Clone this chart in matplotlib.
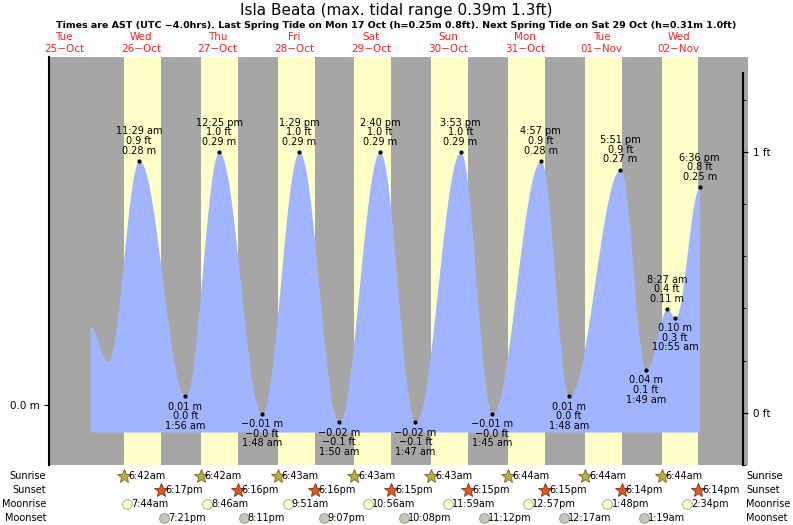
import numpy as np
import matplotlib.pyplot as plt

# hours relative to Wed 26-Oct 00:00 AST
ext_hours = [-3.9, 1.7, 11.48, 25.93, 36.42, 49.8, 61.48, 73.83, 86.67, 97.78,
             111.88, 121.75, 136.95, 145.8, 161.85, 169.82, 176.45, 178.92, 186.6]
ext_m = [0.09, 0.05, 0.28, 0.01, 0.29, -0.01, 0.29, -0.02, 0.29, -0.02,
         0.29, -0.01, 0.28, 0.01, 0.27, 0.04, 0.11, 0.10, 0.25]
# labelled extremes: (index, time, ft, m)
labels = [(2, '11:29 am', '0.9 ft', '0.28 m'), (3, '1:56 am', '0.0 ft', '0.01 m'),
          (4, '12:25 pm', '1.0 ft', '0.29 m'), (5, '1:48 am', '\u22120.0 ft', '\u22120.01 m'),
          (6, '1:29 pm', '1.0 ft', '0.29 m'), (7, '1:50 am', '\u22120.1 ft', '\u22120.02 m'),
          (8, '2:40 pm', '1.0 ft', '0.29 m'), (9, '1:47 am', '\u22120.1 ft', '\u22120.02 m'),
          (10, '3:53 pm', '1.0 ft', '0.29 m'), (11, '1:45 am', '\u22120.0 ft', '\u22120.01 m'),
          (12, '4:57 pm', '0.9 ft', '0.28 m'), (13, '1:48 am', '0.0 ft', '0.01 m'),
          (14, '5:51 pm', '0.9 ft', '0.27 m'), (15, '1:49 am', '0.1 ft', '0.04 m'),
          (16, '8:27 am', '0.4 ft', '0.11 m'), (17, '10:55 am', '0.3 ft', '0.10 m'),
          (18, '6:36 pm', '0.8 ft', '0.25 m')]
high_idx = [2, 4, 6, 8, 10, 12, 14, 16, 18]

day_names = ['Tue', 'Wed', 'Thu', 'Fri', 'Sat', 'Sun', 'Mon', 'Tue', 'Wed']
day_dates = ['25\u2212Oct', '26\u2212Oct', '27\u2212Oct', '28\u2212Oct', '29\u2212Oct',
             '30\u2212Oct', '31\u2212Oct', '01\u2212Nov', '02\u2212Nov']

sunrise = ['6:42am', '6:42am', '6:43am', '6:43am', '6:43am', '6:44am', '6:44am', '6:44am', '6:44am']
sunset = ['6:17pm', '6:16pm', '6:16pm', '6:15pm', '6:15pm', '6:15pm', '6:14pm', '6:14pm']
moonrise = ['7:44am', '8:46am', '9:51am', '10:56am', '11:59am', '12:57pm', '1:48pm', '2:34pm']
moonset = [(0, '7:21pm'), (1, '8:11pm'), (2, '9:07pm'), (3, '10:08pm'), (4, '11:12pm'),
           (6, '12:17am'), (7, '1:19am')]


def to_h(s):
    t, ap = s[:-2], s[-2:]
    h, m = map(int, t.split(':'))
    h = h % 12 + (12 if ap == 'pm' else 0)
    return h + m / 60


# tide curve: cosine between extremes
tt, hh = [], []
for i in range(len(ext_hours) - 1):
    s = np.linspace(0, 1, 40, endpoint=False)
    tt.extend(ext_hours[i] + s * (ext_hours[i + 1] - ext_hours[i]))
    hh.extend(ext_m[i] + (ext_m[i + 1] - ext_m[i]) * (1 - np.cos(np.pi * s)) / 2)
tt.append(ext_hours[-1]); hh.append(ext_m[-1])

fig = plt.figure(figsize=(7.93, 5.25), dpi=100)
ax = fig.add_axes([49 / 793, 60 / 525, 699 / 793, 408 / 525])
x0, x1 = -16.7, 201.7
y0, y1 = -0.0688, 0.399
ax.set_xlim(x0, x1)
ax.set_ylim(y0, y1)
ax.set_facecolor('#a6a6a6')

# daylight columns
for d in range(1, 9):
    sr = (d - 1) * 24 + to_h(sunrise[d - 1])
    ss = (d - 1) * 24 + (to_h(sunset[d - 1]) if d - 1 < len(sunset) else 18.23)
    ax.axvspan(sr, ss, color='#ffffc8', lw=0)

ax.fill_between(tt, -0.031, hh, color='#a0b4ff', lw=0)

fs = 7
for i, tm, ft, m in labels:
    x, y = ext_hours[i], ext_m[i]
    ax.plot(x, y, 'k.', ms=4)
    if i in high_idx:
        ax.text(x, y + 0.006, f'{tm}\n{ft}\n{m}', ha='center', va='bottom', fontsize=fs, linespacing=0.95)
    else:
        ax.text(x, y - 0.006, f'{m}\n{ft}\n{tm}', ha='center', va='top', fontsize=fs, linespacing=0.95)

ax.spines[['top', 'right', 'bottom']].set_visible(False)
ax.spines['left'].set_linewidth(1.5)
ax.set_xticks([])
ax.set_yticks([0.0])
ax.set_yticklabels(['0.0 m'], fontsize=7.5)

# feet axis
axf = fig.add_axes([743 / 793, 60 / 525, 0.0001, 392 / 525])
axf.set_ylim(-0.2, 1.302)
axf.set_xticks([])
axf.spines[['top', 'left', 'bottom']].set_visible(False)
axf.spines['right'].set_linewidth(1.5)
axf.yaxis.tick_right()
axf.set_yticks([0, 1])
axf.set_yticklabels(['0 ft', '1 ft'], fontsize=7.5)
axf.set_yticks(np.arange(-0.2, 1.3, 0.2), minor=True)
axf.patch.set_visible(False)

# day labels
for d in range(9):
    xf = 49 / 793 + (d * 24 - 12 - x0) / (x1 - x0) * 699 / 793
    fig.text(xf, 1 - 37 / 525, day_names[d], color='#ff2020', ha='center', va='center', fontsize=7.5)
    fig.text(xf, 1 - 49 / 525, day_dates[d], color='#ff2020', ha='center', va='center', fontsize=7.5)

fig.text(0.5, 1 - 10 / 525, 'Isla Beata (max. tidal range 0.39m 1.3ft)', ha='center', va='center', fontsize=11)
fig.text(0.5, 1 - 25 / 525, 'Times are AST (UTC \u22124.0hrs). Last Spring Tide on Mon 17 Oct (h=0.25m 0.8ft). '
         'Next Spring Tide on Sat 29 Oct (h=0.31m 1.0ft)', ha='center', va='center', fontsize=6.8, weight='bold')

# sun and moon rows
def fx(h):
    return 49 / 793 + (h - x0) / (x1 - x0) * 699 / 793

rows = {'Sunrise': 476, 'Sunset': 490, 'Moonrise': 504, 'Moonset': 518}
for name, py in rows.items():
    fig.text(46 / 793, 1 - py / 525, name, ha='right', va='center', fontsize=7)
    fig.text(746 / 793, 1 - py / 525, name, ha='left', va='center', fontsize=7)


def icon(h, py, txt, marker, fc, ec, ms):
    xf = fx(h)
    yf = 1 - py / 525
    fig.lines.append(plt.Line2D([xf], [yf], marker=marker, ms=ms, mfc=fc, mec=ec, mew=0.6,
                                transform=fig.transFigure))
    fig.text(xf + 4 / 793, yf, txt, ha='left', va='center', fontsize=7)


for d, s in enumerate(sunrise[:8]):
    icon(d * 24 + to_h(s), rows['Sunrise'], s, '*', '#b8b040', '#806020', 10)
for d, s in enumerate(sunset):
    icon(d * 24 + to_h(s), rows['Sunset'], s, '*', '#e05a20', '#803010', 10)
for d, s in enumerate(moonrise):
    icon(d * 24 + to_h(s), rows['Moonrise'], s, 'o', '#ffffc8', '#999999', 7)
for d, s in moonset:
    icon(d * 24 + to_h(s), rows['Moonset'], s, 'o', '#c8c8b4', '#888888', 7)

fig.savefig('out.png', dpi=100)
